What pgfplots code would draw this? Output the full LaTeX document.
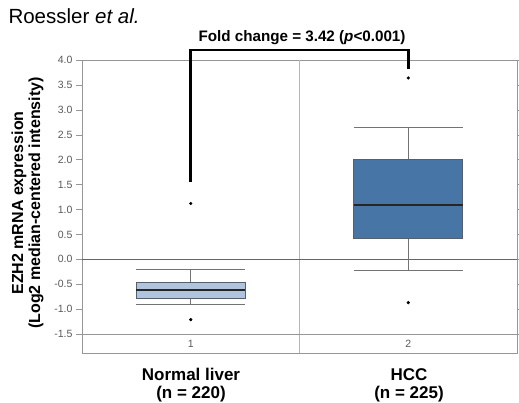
\documentclass[border=0pt]{standalone}
\usepackage{fontspec}
\setmainfont{Liberation Sans}
\usepackage{pgfplots}
\pgfplotsset{compat=1.18}
\usepgfplotslibrary{statistics}
\definecolor{lightbox}{RGB}{176,196,222}
\definecolor{darkbox}{RGB}{71,117,166}
\definecolor{edge}{RGB}{85,95,110}
\definecolor{frame}{RGB}{150,150,150}

\begin{document}
\begin{tikzpicture}[x=1pt,y=1pt]
\useasboundingbox (0,0) rectangle (519,402);
\begin{axis}[
  at={(82pt,49pt)}, anchor=south west,
  width=435pt, height=293pt, scale only axis,
  xmin=0.5, xmax=2.5, ymin=-1.88, ymax=4.0,
  boxplot/draw direction=y,
  xtick=\empty,
  ytick={-1.5,-1.0,-0.5,0,0.5,1.0,1.5,2.0,2.5,3.0,3.5,4.0},
  ytick pos=both,
  tick align=outside,
  major tick length=6pt,
  tick style={frame, thin},
  axis line style={frame, thin},
  yticklabel style={font=\fontsize{10.5}{11}\selectfont, text=black!65,
    /pgf/number format/.cd, fixed, fixed zerofill, precision=1, assume math mode=true},
  clip=false,
]
% separators
\draw[frame!70] (axis cs:1.5,-1.88) -- (axis cs:1.5,4.0);
\draw[frame] (axis cs:0.5,-1.5) -- (axis cs:2.5,-1.5);
\draw[black!60, line width=1pt] (axis cs:0.5,0) -- (axis cs:2.5,0);

\addplot[boxplot prepared={median=-0.62, upper quartile=-0.456, lower quartile=-0.79,
    upper whisker=-0.20, lower whisker=-0.91, draw position=1,
    box extend=0.5, whisker extend=0.5},
  boxplot/every box/.style={draw=edge, fill=lightbox, line width=0.8pt},
  boxplot/every median/.style={black!85, line width=1.6pt},
  boxplot/every whisker/.style={black!55, line width=0.8pt},
  mark=*, mark size=1.4pt, mark options={fill=black, draw=black}]
  table[row sep=\\, y index=0]{data\\1.12\\-1.21\\};

\addplot[boxplot prepared={median=1.09, upper quartile=2.0, lower quartile=0.42,
    upper whisker=2.65, lower whisker=-0.22, draw position=2,
    box extend=0.5, whisker extend=0.5},
  boxplot/every box/.style={draw=edge, fill=darkbox, line width=0.8pt},
  boxplot/every median/.style={black!85, line width=1.6pt},
  boxplot/every whisker/.style={black!55, line width=0.8pt},
  mark=*, mark size=1.4pt, mark options={fill=black, draw=black}]
  table[row sep=\\, y index=0]{data\\3.64\\-0.87\\};

\node[text=black!65, font=\fontsize{10.5}{11}\selectfont] at (axis cs:1,-1.69) {1};
\node[text=black!65, font=\fontsize{10.5}{11}\selectfont] at (axis cs:2,-1.69) {2};

% significance bracket
\draw[line width=2.6pt, line join=miter] (axis cs:1,1.55) |- (axis cs:2,4.2) -- (axis cs:2,3.82);
\end{axis}

\node[anchor=base west, font=\fontsize{20.5}{24}\selectfont] at (5,378) {Roessler \textit{et al.}};
\node[anchor=base, font=\bfseries\fontsize{15.2}{18}\selectfont] at (302,360)
  {Fold change = 3.42 (\textit{p}<0.001)};

\node[anchor=base, font=\bfseries\fontsize{17}{20}\selectfont] at (191,22) {Normal liver};
\node[anchor=base, font=\bfseries\fontsize{17}{20}\selectfont] at (191,4) {(n = 220)};
\node[anchor=base, font=\bfseries\fontsize{17}{20}\selectfont] at (409,22) {HCC};
\node[anchor=base, font=\bfseries\fontsize{17}{20}\selectfont] at (409,4) {(n = 225)};

\node[rotate=90, font=\bfseries\fontsize{16}{19}\selectfont] at (19,199) {EZH2 mRNA expression};
\node[rotate=90, font=\bfseries\fontsize{16}{19}\selectfont] at (36,199) {(Log2 median-centered intensity)};
\end{tikzpicture}
\end{document}
